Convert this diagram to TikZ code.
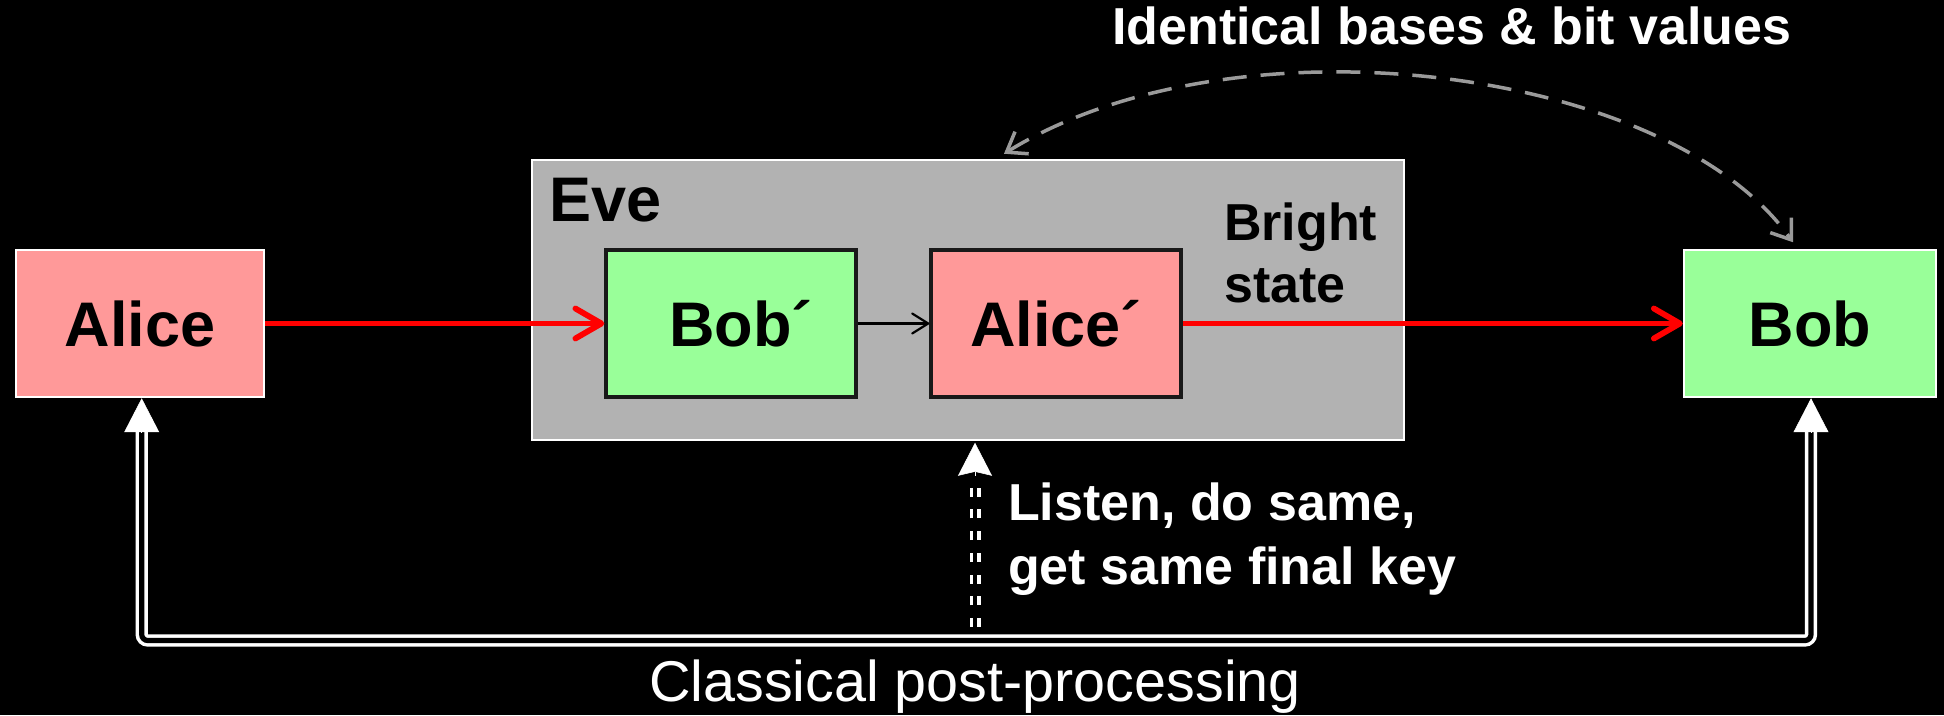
\documentclass[tikz,border=0pt]{standalone}
\usepackage{fontspec}
\setmainfont{Liberation Sans}
\usetikzlibrary{arrows.meta,calc}
\definecolor{apink}{HTML}{FF9999}
\definecolor{bgreen}{HTML}{99FF99}
\definecolor{evegray}{HTML}{B2B2B2}
\definecolor{dashgray}{HTML}{9A9A9A}
\begin{document}
\begin{tikzpicture}[x=1pt,y=1pt]
\tikzset{
  party/.style={draw=white, line width=2.5pt, minimum width=248pt, minimum height=147pt,
    inner sep=0pt, font=\fontsize{63}{70}\selectfont\bfseries, text=black},
  subbox/.style={draw=black!90, line width=3.4pt, minimum width=250pt, minimum height=147pt,
    inner sep=0pt, font=\fontsize{63}{70}\selectfont\bfseries, text=black},
  eveframe/.style={draw=white, fill=evegray, line width=2.5pt, minimum width=872pt,
    minimum height=280pt, inner sep=0pt},
  blacklbl/.style={inner sep=0pt, text=black, font=\fontsize{52}{62}\selectfont\bfseries},
  evelbl/.style={inner sep=0pt, text=black, font=\fontsize{63}{70}\selectfont\bfseries},
  whitelbl/.style={inner sep=0pt, text=white, font=\fontsize{52}{64}\selectfont\bfseries},
  reglbl/.style={inner sep=0pt, text=white, font=\fontsize{57.5}{66}\selectfont},
  redarrow/.style={draw=red, line width=5.8pt, -{Straight Barb[length=26pt,width=30pt,round]}},
  thinarrow/.style={draw=black, line width=2.2pt, -{Straight Barb[length=16pt,width=20pt,round]}},
  grayarc/.style={draw=dashgray, line width=3.5pt, dash pattern=on 24pt off 14pt,
    {Straight Barb[length=18pt,width=26pt]}-{Straight Barb[length=18pt,width=26pt]}},
  dbl/.style={draw=white, line width=3.5pt, double=black, double distance=5.2pt},
  dbldash/.style={draw=white, line width=3.2pt, double=black, double distance=4.6pt,
    dash pattern=on 9pt off 12.7pt},
  whitetri/.style={draw=white, fill=white, line width=0.5pt, -{Triangle[length=34pt,width=35pt]}},
  whitestealth/.style={draw=white, fill=white, line width=0.5pt, -{Stealth[length=33pt,width=34pt,inset=4pt]}}
}
\useasboundingbox (0,0) rectangle (1944,715);
\fill[black] (0,0) rectangle (1944,715);

% boxes
\node[eveframe] (eve) at (968,415) {};
\node[party, fill=apink] (alice) at (140,391.5) {Alice};
\node[subbox, fill=bgreen] (bobp) at (731,391.5) {\hspace*{20pt}Bob´};
\node[subbox, fill=apink] (alicep) at (1056,391.5) {Alice´};
\node[party, fill=bgreen, minimum width=252pt] (bob) at (1810,391.5) {Bob};

% labels
\node[evelbl, anchor=base west] (evelabel) at (549,493) {Eve};
\node[blacklbl, anchor=north west, align=left] (bright) at (1224,512) {Bright\\state};
\node[whitelbl, anchor=base west] (ident) at (1112,670) {Identical bases \& bit values};
\node[whitelbl, anchor=north west, align=left] (listen) at (1008,232) {Listen, do same,\\get same final key};
\node[reglbl, anchor=base] (classical) at (975,13) {Classical post-processing};

% quantum channel
\draw[redarrow] (alice) -- (bobp);
\draw[thinarrow] (bobp) -- (alicep);
\draw[redarrow] (alicep) -- (bob);

% identical bases arc
\coordinate (g1) at ($(eve.north)+(36,5)$);
\coordinate (g2) at ($(bob.north)+(-17,6.5)$);
\draw[grayarc] (g1) .. controls +(230,142) and +(-125,176.5) .. (g2);

% classical post-processing double line
\coordinate (bus) at (975,74.5);
\coordinate (at) at ($(alice.south)+(1.7,0)$);
\coordinate (bt) at ($(bob.south)+(1,0)$);
\coordinate (aa) at ($(at)+(0,-32)$);
\coordinate (bb) at ($(bt)+(0,-32)$);
\draw[dbl, rounded corners=6pt] (aa) |- (bus) -| (bb);
\draw[whitetri] ($(at)+(0,-34)$) -- (at);
\draw[whitetri] ($(bt)+(0,-34)$) -- (bt);

% Eve listening
\coordinate (lb) at ($(bus)+(0,13.5)$);
\coordinate (lt) at ($(eve.south)+(7,-1.5)$);
\draw[dbldash] (lb) -- ($(lt)+(0,-37)$);
\draw[whitestealth] ($(lt)+(0,-33)$) -- (lt);
\end{tikzpicture}
\end{document}
